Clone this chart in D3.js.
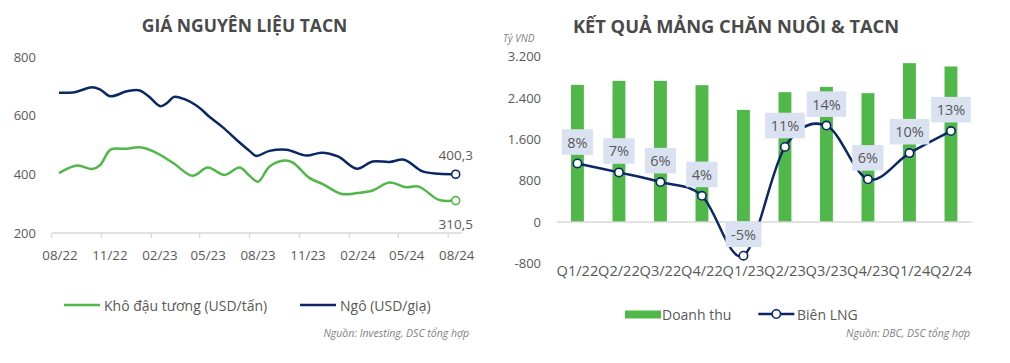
<!DOCTYPE html>
<html><head><meta charset="utf-8">
<script src="https://cdn.jsdelivr.net/npm/d3@7"></script>
<style>body{margin:0;background:#fff} svg{display:block;font-family:"Open Sans",sans-serif}</style>
</head><body><svg id="c" width="1010" height="363"></svg>
<script>
// ---------- Left chart data ----------
const cornDates = ["2022-08-01","2022-09-01","2022-10-01","2022-10-16","2022-11-04","2022-12-04","2022-12-28","2023-01-13","2023-02-04","2023-02-16","2023-03-01","2023-03-19","2023-04-16","2023-05-04","2023-05-30","2023-06-24","2023-07-18","2023-07-30","2023-08-24","2023-09-24","2023-10-31","2023-11-28","2023-12-28","2024-02-01","2024-03-01","2024-04-01","2024-04-28","2024-06-01","2024-07-01","2024-08-01"];
const cornValues = [678,681,697,689,666,683,686,666,632,643,664,657,628,598,560,518,480,463,480,484,464,474,461,419,444,442,450,410,402,400.3];
const soyDates = ["2022-08-01","2022-09-03","2022-10-01","2022-10-16","2022-11-04","2022-12-04","2022-12-28","2023-01-22","2023-02-28","2023-04-04","2023-05-02","2023-06-02","2023-06-30","2023-07-18","2023-08-03","2023-08-24","2023-09-21","2023-10-06","2023-11-06","2023-12-01","2024-01-04","2024-02-01","2024-03-01","2024-04-01","2024-05-01","2024-05-25","2024-07-01","2024-08-01"];
const soyValues = [404,430,418,432,484,487,492,478,438,395,423,398,423,395,375,427,447,440,387,366,333,336,345,372,356,358,313,310.5];
const leftTickLabels = ["08/22","11/22","02/23","05/23","08/23","11/23","02/24","05/24","08/24"];
const leftYTicks = [200,400,600,800];
const leftSeriesNames = ["Khô đậu tương (USD/tấn)","Ngô (USD/giạ)"];

// ---------- Right chart data ----------
const quarters = ["Q1/22","Q2/22","Q3/22","Q4/22","Q1/23","Q2/23","Q3/23","Q4/23","Q1/24","Q2/24"];
const revenue = [2655,2732,2732,2649,2170,2513,2616,2494,3075,3010];
const marginPct = [8.5,7.2,5.8,3.8,-4.9,10.9,14.0,6.2,10.0,13.2];
const marginLabels = ["8%","7%","6%","4%","-5%","11%","14%","6%","10%","13%"];
const rightYTicks = [-800,0,800,1600,2400,3200];
const rightSeriesNames = ["Doanh thu","Biên LNG"];

const GREEN = "#50b848", NAVY = "#0c2766", TXT = "#595959", TITLE = "#4a4a4a", AX = "#d9d9d9";
const svg = d3.select("#c");
const parse = d3.timeParse("%Y-%m-%d");

// ================= LEFT CHART =================
const L = svg.append("g");
L.append("text").attr("x",244.5).attr("y",25).attr("text-anchor","middle").attr("dominant-baseline","central")
  .attr("font-size",17.5).attr("font-weight",700).attr("fill",TITLE).text("GIÁ NGUYÊN LIỆU TACN");

const xL = d3.scaleTime().domain([parse("2022-08-01"), parse("2024-08-01")]).range([59, 455.7]);
const yL = d3.scaleLinear().domain([200,800]).range([233, 57]);

L.append("g").attr("transform","translate(36,0)")
  .call(d3.axisLeft(yL).tickValues(leftYTicks).tickSize(0).tickPadding(0))
  .call(g=>g.select(".domain").remove())
  .call(g=>g.selectAll("text").attr("fill",TXT).attr("font-size",13).attr("font-family","Open Sans"));

const tickDates = leftTickLabels.map(s=>{const [m,y]=s.split("/");return new Date(2000+ +y, +m-1, 1);});
L.append("line").attr("x1",52).attr("x2",462).attr("y1",yL(200)).attr("y2",yL(200)).attr("stroke",AX).attr("stroke-width",1.3);
L.selectAll(".tk").data(tickDates).join("line").attr("class","tk")
  .attr("x1",d=>xL(d)-7.5).attr("x2",d=>xL(d)-7.5).attr("y1",yL(200)).attr("y2",yL(200)+5).attr("stroke",AX).attr("stroke-width",1.3);
L.selectAll(".tl").data(tickDates).join("text").attr("class","tl")
  .attr("x",d=>xL(d)+1).attr("y",255).attr("text-anchor","middle").attr("dominant-baseline","central")
  .attr("font-size",13.3).attr("fill",TXT).text((d,i)=>leftTickLabels[i]);

const lineL = d3.line().x(d=>xL(d[0])).y(d=>yL(d[1])).curve(d3.curveCatmullRom.alpha(0.5));
const soy = soyDates.map((d,i)=>[parse(d),soyValues[i]]);
const corn = cornDates.map((d,i)=>[parse(d),cornValues[i]]);
L.append("path").attr("d",lineL(soy)).attr("fill","none").attr("stroke",GREEN).attr("stroke-width",2.5);
L.append("path").attr("d",lineL(corn)).attr("fill","none").attr("stroke",NAVY).attr("stroke-width",2.5);
const lastSoy = soy[soy.length-1], lastCorn = corn[corn.length-1];
L.append("circle").attr("cx",xL(lastSoy[0])).attr("cy",yL(lastSoy[1])).attr("r",4).attr("fill","#fff").attr("stroke",GREEN).attr("stroke-width",1.6);
L.append("circle").attr("cx",xL(lastCorn[0])).attr("cy",yL(lastCorn[1])).attr("r",4).attr("fill","#fff").attr("stroke",NAVY).attr("stroke-width",1.6);
const fmtVN = v=>d3.format(".1f")(v).replace(".",",");
L.append("text").attr("x",xL(lastCorn[0])).attr("y",yL(lastCorn[1])-19).attr("text-anchor","middle").attr("dominant-baseline","central")
  .attr("font-size",13.5).attr("fill",TXT).text(fmtVN(lastCorn[1]));
L.append("text").attr("x",xL(lastSoy[0])).attr("y",yL(lastSoy[1])+23).attr("text-anchor","middle").attr("dominant-baseline","central")
  .attr("font-size",13.5).attr("fill",TXT).text(fmtVN(lastSoy[1]));

// legend
const legL = [{x:64,c:GREEN,t:leftSeriesNames[0]},{x:300,c:NAVY,t:leftSeriesNames[1]}];
legL.forEach(d=>{
  L.append("line").attr("x1",d.x).attr("x2",d.x+36).attr("y1",305).attr("y2",305).attr("stroke",d.c).attr("stroke-width",2.5);
  L.append("text").attr("x",d.x+40).attr("y",305).attr("dominant-baseline","central").attr("font-size",14).attr("fill",TXT).text(d.t);
});
L.append("text").attr("x",469).attr("y",333).attr("text-anchor","end").attr("dominant-baseline","central")
  .attr("font-size",10.5).attr("font-style","italic").attr("fill","#7f7f7f").text("Nguồn: Investing, DSC tổng hợp");

// ================= RIGHT CHART =================
const R = svg.append("g");
R.append("text").attr("x",736).attr("y",25).attr("text-anchor","middle").attr("dominant-baseline","central")
  .attr("font-size",18.3).attr("font-weight",700).attr("fill",TITLE).text("KẾT QUẢ MẢNG CHĂN NUÔI & TACN");
R.append("text").attr("x",503).attr("y",37.5).attr("dominant-baseline","central")
  .attr("font-size",10).attr("font-style","italic").attr("fill","#7f7f7f").text("Tỷ VND");

const xR = d3.scaleBand().domain(quarters).range([556.7, 971.7]).paddingInner(0.69).paddingOuter(0.345);
const yRv = d3.scaleLinear().domain([-800,3200]).range([263.3, 56.7]);
const yRp = d3.scaleLinear().domain([-6,24]).range([263.3, 56.7]);

R.append("g").attr("transform","translate(541,0)")
  .call(d3.axisLeft(yRv).tickValues(rightYTicks).tickSize(0).tickPadding(0).tickFormat(v=>d3.format(",")(v).replace(/,/g,".").replace("−","-")))
  .call(g=>g.select(".domain").remove())
  .call(g=>g.selectAll("text").attr("fill",TXT).attr("font-size",13).attr("font-family","Open Sans"));

R.selectAll(".bar").data(revenue).join("rect").attr("class","bar")
  .attr("x",(d,i)=>xR(quarters[i])).attr("width",xR.bandwidth())
  .attr("y",d=>yRv(d)).attr("height",d=>yRv(0)-yRv(d)).attr("fill",GREEN);
R.append("line").attr("x1",556.7).attr("x2",971.7).attr("y1",yRv(0)).attr("y2",yRv(0)).attr("stroke",AX).attr("stroke-width",1.3);
R.selectAll(".ql").data(quarters).join("text").attr("class","ql")
  .attr("x",d=>xR(d)+xR.bandwidth()/2).attr("y",270).attr("text-anchor","middle").attr("dominant-baseline","central")
  .attr("font-size",14.6).attr("fill",TXT).text(d=>d);

const pts = marginPct.map((v,i)=>[xR(quarters[i])+xR.bandwidth()/2, yRp(v)]);
R.append("path").attr("d",d3.line().curve(d3.curveCardinal.tension(0))(pts)).attr("fill","none").attr("stroke",NAVY).attr("stroke-width",2.5);
// labels
const lab = R.selectAll(".lab").data(pts).join("g").attr("class","lab");
lab.each(function(p,i){
  const g = d3.select(this);
  const t = g.append("text").attr("x",p[0]).attr("y",p[1]-8.6-12.8).attr("text-anchor","middle").attr("dominant-baseline","central")
    .attr("font-size",14.5).attr("fill",TXT).text(marginLabels[i]);
  const w = t.node().getComputedTextLength()+11;
  g.insert("rect","text").attr("x",p[0]-w/2).attr("y",p[1]-8.6-25.6).attr("width",w).attr("height",25.6).attr("fill","#dae2f1");
});
R.selectAll(".mk").data(pts).join("circle").attr("class","mk").attr("cx",d=>d[0]).attr("cy",d=>d[1]).attr("r",4.2)
  .attr("fill","#fff").attr("stroke",NAVY).attr("stroke-width",1.6);

// legend
R.append("rect").attr("x",625).attr("y",310.5).attr("width",36).attr("height",8).attr("fill",GREEN);
R.append("text").attr("x",662).attr("y",314).attr("dominant-baseline","central").attr("font-size",14).attr("fill",TXT).text(rightSeriesNames[0]);
R.append("line").attr("x1",758.3).attr("x2",794.3).attr("y1",314).attr("y2",314).attr("stroke",NAVY).attr("stroke-width",2.5);
R.append("circle").attr("cx",776.3).attr("cy",314).attr("r",4.2).attr("fill","#fff").attr("stroke",NAVY).attr("stroke-width",1.6);
R.append("text").attr("x",797).attr("y",314).attr("dominant-baseline","central").attr("font-size",14).attr("fill",TXT).text(rightSeriesNames[1]);
R.append("text").attr("x",970).attr("y",333).attr("text-anchor","end").attr("dominant-baseline","central")
  .attr("font-size",10.5).attr("font-style","italic").attr("fill","#7f7f7f").text("Nguồn: DBC, DSC tổng hợp");
</script></body></html>
